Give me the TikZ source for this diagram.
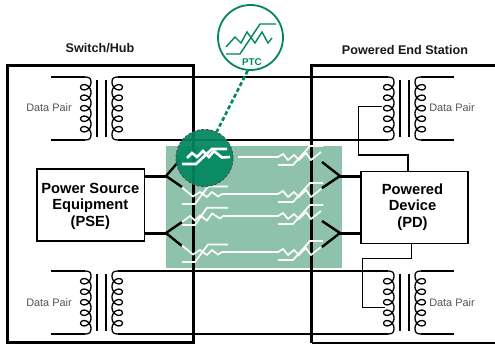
\documentclass[tikz,border=0pt]{standalone}
\usepackage{fontspec}
\setmainfont{Liberation Sans}
\definecolor{ptcgreen}{HTML}{00875F}
\definecolor{panelgreen}{HTML}{8FC2AC}
\definecolor{labelgray}{HTML}{555555}
\tikzset{
  wire/.style={line width=1.3pt,black},
  frame/.style={line width=3pt,black},
  power/.style={line width=3pt,black},
  arm/.style={line width=2.4pt,black},
  whiteline/.style={line width=1.7pt,white,line join=miter},
  dev/.style={draw,line width=1.4pt,fill=white,inner sep=0pt,align=center},
  devtext/.style={inner sep=0pt,align=center,font=\fontsize{14.7}{16.6}\selectfont\bfseries},
  datalabel/.style={font=\fontsize{10.9}{12}\selectfont,text=labelgray,inner sep=0pt},
  head/.style={font=\fontsize{12.6}{14}\selectfont\bfseries,text=black!90,inner sep=0pt},
  xfmr/.pic={
    \draw[wire] (-16.5,-31.5) .. controls (-12,-31.5) and (-10.5,-30) .. (-10.5,-26.5)
      -- plot[smooth,domain=0:1800,samples=121] ({-15.7+5.2*cos(\x)},{-26.5+0.0291667*\x+5*sin(\x)})
      .. controls (-10.5,30) and (-12,31.5) .. (-16.5,31.5);
    \draw[wire] (16.5,-31.5) .. controls (12,-31.5) and (10.5,-30) .. (10.5,-26.5)
      -- plot[smooth,domain=0:1800,samples=121] ({15.7-5.2*cos(\x)},{-26.5+0.0291667*\x+5*sin(\x)})
      .. controls (10.5,30) and (12,31.5) .. (16.5,31.5);
    \draw[line width=1.6pt] (-4.5,-28.5) -- (-4.5,28.5) (4.5,-28.5) -- (4.5,28.5);
    \coordinate (-lt) at (-16.5,-31.5);
    \coordinate (-lb) at (-16.5,31.5);
    \coordinate (-rt) at (16.5,-31.5);
    \coordinate (-rb) at (16.5,31.5);
  },
  ptcleft/.pic={
    \draw[whiteline] (0,0) -- (11,9) -- (18,4.5) -- (25,9.5) -- (30,4.5) -- (36,9) -- (40,6.5);
    \draw[whiteline] (0,16.5) -- (13,16.5) -- (26,-1) -- (46,-1);
    \coordinate (-out) at (40,6.5);
  },
  ptcright/.pic={
    \draw[whiteline] (-1,0) -- (4,-3) -- (9,3) -- (15,-2) -- (20,3) -- (27,-4) -- (32,3) -- (42,-5);
    \draw[whiteline] (-1,8) -- (14,8) -- (31,-11) -- (44,-11);
    \coordinate (-in) at (0,0);
  }
}
\begin{document}
\begin{tikzpicture}[x=1pt,y=-1pt]
\useasboundingbox (0,0) rectangle (495,345);
\fill[panelgreen] (165.5,146) rectangle (342,268);

% frames
\draw[frame] (7.5,66) rectangle (193,342.7);
\draw[frame] (495,66) -- (311.7,66) -- (311.7,343);
\draw[line width=2pt] (311.7,343) -- (495,343);

% transformers
\pic (TA) at (101.5,108.5) {xfmr};
\pic (TB) at (404.5,108.5) {xfmr};
\pic (TC) at (101.5,302.5) {xfmr};
\pic (TD) at (404.5,302.5) {xfmr};
\coordinate (AL1) at (51,77);
\coordinate (AL2) at (51,140);
\coordinate (CL1) at (51,271);
\coordinate (CL2) at (51,334);
\coordinate (BR1) at (454,77);
\coordinate (BR2) at (454,140);
\coordinate (DR1) at (454,271);
\coordinate (DR2) at (454,334);
\draw[wire] (AL1) -- (TA-lt) (AL2) -- (TA-lb) (CL1) -- (TC-lt) (CL2) -- (TC-lb);
\draw[wire] (BR1) -- (TB-rt) (BR2) -- (TB-rb) (DR1) -- (TD-rt) (DR2) -- (TD-rb);
\draw[wire] (TA-rt) -- (TB-lt) (TA-rb) -- (TB-lb) (TC-rt) -- (TD-lt) (TC-rb) -- (TD-lb);

% devices
\node[dev,minimum width=107.5pt,minimum height=72pt] (PSE) at (90.8,205) {};
\node[devtext] (PSEt) at (90.3,206) {Power Source\\Equipment\\(PSE)};
\node[dev,minimum width=107pt,minimum height=71.5pt] (PD) at (414.5,207.5) {};
\node[devtext] (PDt) at (412.5,207) {Powered\\Device\\(PD)};

% taps
\coordinate (tapB) at (382,106.7);
\coordinate (tapD) at (385,307.3);
\coordinate (pdtop) at (408,171.7);
\coordinate (pdbot) at (411.7,243);
\draw[wire] (tapB) -- (358.3,106.7) -- (358.3,155) -- (408,155) -- (pdtop);
\draw[wire] (pdbot) -- (411.7,258.3) -- (362.7,258.3) -- (362.7,307.3) -- (tapD);

% power forks
\coordinate (FL1) at (166,176);
\coordinate (FL2) at (166,233);
\coordinate (FR1) at (340,176);
\coordinate (FR2) at (340,233);
\coordinate (EL1) at (182,187);
\coordinate (EL2) at (182,222);
\coordinate (EL3) at (182,246);
\coordinate (EU1) at (180,160);
\coordinate (ER1) at (322,162);
\coordinate (ER2) at (322,188);
\coordinate (ER3) at (322,221);
\coordinate (ER4) at (322,247);
\draw[power] (FL1 -| PSE.east) -- (FL1);
\draw[power] (FL2 -| PSE.east) -- (FL2);
\draw[power] (FR1) -- (FR1 -| PD.west);
\draw[power] (FR2) -- (FR2 -| PD.west);
\draw[arm] (EU1) -- (FL1) -- (EL1);
\draw[arm] (EL2) -- (FL2) -- (EL3);
\draw[arm] (ER1) -- (FR1) -- (ER2);
\draw[arm] (ER3) -- (FR2) -- (ER4);

% PTC symbols in the channels
\pic (LB) at (182,187.5) {ptcleft};
\pic (LD) at (182,245.5) {ptcleft};
\draw[whiteline] (182,222) -- (190,216) -- (195,220.5) -- (200,215.5) -- (207,220.5) -- (212,213.5) -- (220,218.5) -- (223,216);
\draw[whiteline] (182,225) -- (195,225) -- (207,207.7) -- (228,207.7);
\coordinate (LCout) at (223,216);
\pic (RA) at (279,157) {ptcright};
\pic (RB) at (279,194) {ptcright};
\pic (RC) at (279,216) {ptcright};
\pic (RD) at (279,252) {ptcright};
\coordinate (RAstart) at (238,157);
\draw[whiteline] (RAstart) -- (RA-in);
\draw[whiteline] (LB-out) -- (RB-in);
\draw[whiteline] (LCout) -- (RC-in);
\draw[whiteline] (LD-out) -- (RD-in);

% magnified PTC
\node[circle,minimum size=57pt,inner sep=0pt,fill=ptcgreen,fill opacity=.93,draw=black!70,line width=.9pt,dash pattern=on 3pt off 1.5pt] (zoomc) at (204.5,158) {};
\draw[line width=2.6pt,white,line join=miter] (187,158) -- (192,153) -- (197,157) -- (203,151) -- (209,157) -- (214,151) -- (222,157.5) -- (230,157);
\draw[line width=2.6pt,white,line join=miter] (182,164) -- (196,164) -- (212,149) -- (227,149);

% callout
\node[circle,minimum size=65pt,inner sep=0pt,fill=white,draw=ptcgreen,line width=1.8pt] (ptc) at (250.5,37.5) {};
\draw[line width=1.4pt,ptcgreen] (226,47) -- (235,37) -- (241,43) -- (247,32) -- (255,43) -- (262,32) -- (268,43) -- (272,38);
\draw[line width=1.4pt,ptcgreen] (226,54) -- (240,54) -- (260,24) -- (276,24);
\node[font=\fontsize{9.8}{10}\selectfont\bfseries,text=ptcgreen,inner sep=0pt] (ptcl) at (252,62) {PTC};
\draw[ptcgreen,line width=2.6pt,dash pattern=on 4pt off 2.5pt] (ptc.265) -- (zoomc.65);

% labels
\node[head] (swh) at (100,48) {Switch/Hub};
\node[head] (pes) at (405,49.5) {Powered End Station};
\node[datalabel] (dA) at (49,108) {Data Pair};
\node[datalabel] (dB) at (452,108) {Data Pair};
\node[datalabel] (dC) at (49,303) {Data Pair};
\node[datalabel] (dD) at (452,303) {Data Pair};
\end{tikzpicture}
\end{document}
